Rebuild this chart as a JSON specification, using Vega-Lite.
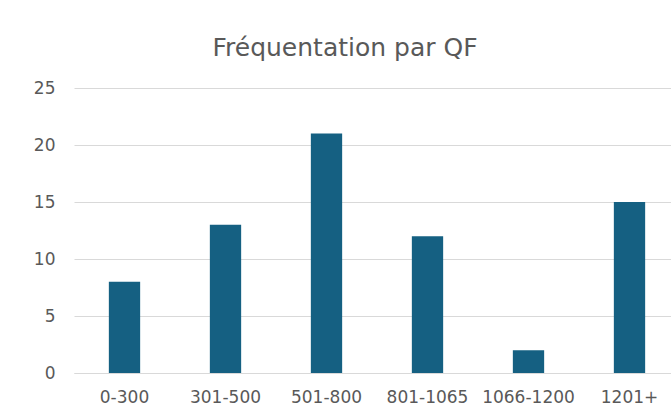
{
  "$schema": "https://vega.github.io/schema/vega-lite/v6.json",
  "autosize": {"type": "none"},
  "padding": {"left": 74, "top": 88, "right": 0, "bottom": 31},
  "width": 606,
  "height": 285,
  "background": "white",
  "title": {
    "text": "Fréquentation par QF",
    "font": "DejaVu Sans",
    "fontSize": 25,
    "fontWeight": "normal",
    "color": "#595959",
    "frame": "group",
    "anchor": "middle",
    "baseline": "alphabetic",
    "offset": -2,
    "dx": -32
  },
  "data": {
    "values": [
      {"QF": "0-300", "Frequentation": 8},
      {"QF": "301-500", "Frequentation": 13},
      {"QF": "501-800", "Frequentation": 21},
      {"QF": "801-1065", "Frequentation": 12},
      {"QF": "1066-1200", "Frequentation": 2},
      {"QF": "1201+", "Frequentation": 15}
    ]
  },
  "mark": {"type": "bar", "color": "#156082"},
  "encoding": {
    "x": {
      "field": "QF",
      "type": "nominal",
      "sort": null,
      "scale": {"paddingInner": 0.69, "paddingOuter": 0.345},
      "axis": {
        "title": null,
        "labelAngle": 0,
        "labelFont": "DejaVu Sans",
        "labelFontSize": 17,
        "labelColor": "#595959",
        "ticks": false,
        "domainColor": "#D9D9D9",
        "labelPadding": 16,
        "grid": false
      }
    },
    "y": {
      "field": "Frequentation",
      "type": "quantitative",
      "scale": {"domain": [0, 25], "nice": false},
      "axis": {
        "title": null,
        "values": [0, 5, 10, 15, 20, 25],
        "labelFont": "DejaVu Sans",
        "labelFontSize": 17,
        "labelColor": "#595959",
        "ticks": false,
        "domain": false,
        "labelPadding": 19,
        "gridColor": "#D9D9D9",
        "gridWidth": 1
      }
    }
  },
  "config": {"view": {"stroke": null}}
}
